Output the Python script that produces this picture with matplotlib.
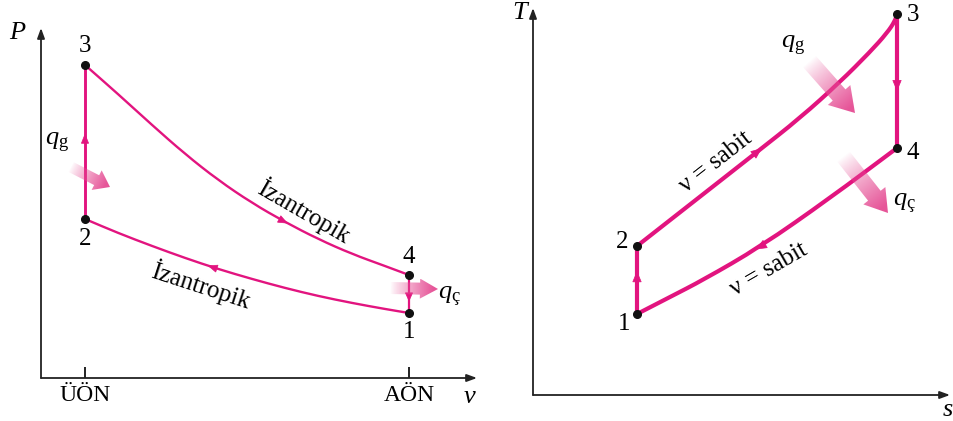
import numpy as np
import matplotlib
matplotlib.use("Agg")
import matplotlib.pyplot as plt
from matplotlib.patches import Polygon, PathPatch
from matplotlib.path import Path

# ---------------- data ----------------
# Left panel: P-v diagram (v, P in drawing units)
pv_states_v = [368, 44, 44, 368]          # states 1, 2, 3, 4
pv_states_P = [65, 159, 313, 103]
pv_state_labels = ["1", "2", "3", "4"]

# isentropic expansion 3 -> 4
exp_v = [44, 77, 111, 144, 177, 211, 244, 277, 311, 344, 368]
exp_P = [313, 284, 253, 224, 198, 175, 156, 139, 124, 112, 103]
# isentropic compression 1 -> 2 (stored with increasing v)
cmp_v = [44, 77, 111, 144, 177, 211, 244, 277, 311, 344, 368]
cmp_P = [159, 145, 132, 120, 109, 99, 90, 82, 75, 69, 65]

pv_ticks = [44, 368]
pv_tick_labels = ["ÜÖN", "AÖN"]

# Right panel: T-s diagram
ts_states_s = [104, 104, 364, 364]        # states 1, 2, 3, 4
ts_states_T = [81, 149, 381, 247]
ts_state_labels = ["1", "2", "3", "4"]

# constant-volume heat addition 2 -> 3
add_s = [104, 164, 224, 267, 307, 337, 354, 362, 364]
add_T = [149, 196, 243, 277, 313, 343, 362, 374, 381]
# constant-volume heat rejection 4 -> 1
rej_s = [364, 297, 227, 170, 137, 104]
rej_T = [247, 197, 148, 115, 98, 81]

# ---------------- style ----------------
plt.rcParams["font.family"] = "serif"
plt.rcParams["font.serif"] = ["Liberation Serif", "DejaVu Serif"]
plt.rcParams["mathtext.fontset"] = "custom"
plt.rcParams["mathtext.rm"] = "Liberation Serif"
plt.rcParams["mathtext.it"] = "Liberation Serif:italic"

PINK = "#e2147f"
GRAD = (0.90, 0.30, 0.58)
AXC = "#222222"
FS = 18

W, H = 954, 421
fig = plt.figure(figsize=(W / 100, H / 100), dpi=100)


def make_axes(ox, oy, xe, ye):
    ax = fig.add_axes([ox / W, (H - oy) / H, (xe - ox) / W, (oy - ye) / H])
    xl, yl = (0, xe - ox), (0, oy - ye)
    for sp in ax.spines.values():
        sp.set_visible(False)
    ax.set_yticks([])
    ax.set_xticks([])
    ax.patch.set_alpha(0)
    ax.annotate("", xy=(1, 0), xytext=(0, 0), xycoords="axes fraction",
                arrowprops=dict(arrowstyle="-|>,head_length=0.6,head_width=0.22",
                                color=AXC, lw=1.3, shrinkA=0, shrinkB=0))
    ax.annotate("", xy=(0, 1), xytext=(0, 0), xycoords="axes fraction",
                arrowprops=dict(arrowstyle="-|>,head_length=0.6,head_width=0.22",
                                color=AXC, lw=1.3, shrinkA=0, shrinkB=0))
    return ax, xl, yl


def smooth_curve(ax, xs, ys, lw):
    """Draw a smooth curve using the read points as quadratic Bezier controls."""
    pts = np.column_stack([xs, ys]).astype(float)
    verts = [pts[0], (pts[0] + pts[1]) / 2]
    codes = [Path.MOVETO, Path.LINETO]
    for i in range(1, len(pts) - 1):
        verts += [pts[i], (pts[i] + pts[i + 1]) / 2]
        codes += [Path.CURVE3, Path.CURVE3]
    verts.append(pts[-1])
    codes.append(Path.LINETO)
    ax.add_patch(PathPatch(Path(verts, codes), facecolor="none", edgecolor=PINK,
                           lw=lw, zorder=3, capstyle="butt"))


def arrow_mark(ax, xs, ys, frac, L=9.0, w=3.6, color=PINK):
    xs = np.asarray(xs, float)
    ys = np.asarray(ys, float)
    seg = np.hypot(np.diff(xs), np.diff(ys))
    cum = np.concatenate([[0], np.cumsum(seg)])
    target = frac * cum[-1]
    i = min(np.searchsorted(cum, target) - 1, len(seg) - 1)
    i = max(i, 0)
    t = (target - cum[i]) / seg[i]
    p = np.array([xs[i] + t * (xs[i + 1] - xs[i]), ys[i] + t * (ys[i + 1] - ys[i])])
    u = np.array([xs[i + 1] - xs[i], ys[i + 1] - ys[i]]) / seg[i]
    n = np.array([-u[1], u[0]])
    base = p - u * L
    tri = [p, base + n * w, base - n * w]
    ax.add_patch(Polygon(tri, closed=True, facecolor=color, edgecolor=color,
                         lw=0.5, zorder=4))


def grad_arrow(ax, tail, tip, shaft_w, head_w, head_len):
    tail = np.asarray(tail, float)
    tip = np.asarray(tip, float)
    d = tip - tail
    L = np.hypot(*d)
    u = d / L
    n = np.array([-u[1], u[0]])
    hb = tip - u * head_len
    pts = np.array([tail + n * shaft_w / 2, hb + n * shaft_w / 2, hb + n * head_w / 2,
                    tip, hb - n * head_w / 2, hb - n * shaft_w / 2, tail - n * shaft_w / 2])
    poly = Polygon(pts, closed=True, facecolor="none", edgecolor="none")
    ax.add_patch(poly)
    x0, x1 = pts[:, 0].min(), pts[:, 0].max()
    y0, y1 = pts[:, 1].min(), pts[:, 1].max()
    gx = np.linspace(x0, x1, 80)
    gy = np.linspace(y0, y1, 80)
    GX, GY = np.meshgrid(gx, gy)
    t = ((GX - tail[0]) * u[0] + (GY - tail[1]) * u[1]) / L
    t = np.clip(t, 0, 1)
    rgba = np.zeros((80, 80, 4))
    rgba[..., 0], rgba[..., 1], rgba[..., 2] = GRAD
    rgba[..., 3] = np.clip(t ** 0.85 * 1.05, 0, 0.95)
    im = ax.imshow(rgba, extent=(x0, x1, y0, y1), origin="lower",
                   interpolation="bilinear", aspect="auto", zorder=5)
    im.set_clip_path(poly)


# ================= Left: P-v =================
axL, xlL, ylL = make_axes(41, 378, 477, 28)

axL.plot([pv_states_v[1], pv_states_v[2]], [pv_states_P[1], pv_states_P[2]],
         color=PINK, lw=2.1, solid_capstyle="butt", zorder=3)
axL.plot([pv_states_v[3], pv_states_v[0]], [pv_states_P[3], pv_states_P[0]],
         color=PINK, lw=1.6, solid_capstyle="butt", zorder=3)
smooth_curve(axL, exp_v, exp_P, 1.7)
smooth_curve(axL, cmp_v, cmp_P, 1.7)

arrow_mark(axL, [pv_states_v[1], pv_states_v[2]], [pv_states_P[1], pv_states_P[2]], 0.55)
arrow_mark(axL, exp_v, exp_P, 0.66)
arrow_mark(axL, cmp_v[::-1], cmp_P[::-1], 0.61)
arrow_mark(axL, [pv_states_v[3], pv_states_v[0]], [pv_states_P[3], pv_states_P[0]], 0.68, L=8)

axL.plot(pv_states_v, pv_states_P, "o", color="#111111", ms=5.5, zorder=6)

pv_label_pos = [(368, 46), (44, 139), (44, 332), (368, 121)]
for lab, (x, y) in zip(pv_state_labels, pv_label_pos):
    axL.text(x, y, lab, fontsize=FS, ha="center", va="center", zorder=7)

grad_arrow(axL, (30, 211), (69, 191), 11, 22, 15)
grad_arrow(axL, (349, 90), (397, 89), 12, 20, 18)

axL.text(16, 235, r"$q_{\rm g}$", fontsize=FS + 1, ha="center", va="center")
axL.text(408, 81, r"$q_{\rm ç}$", fontsize=FS + 1, ha="center", va="center")

axL.text(263, 167, "İzantropik", fontsize=FS, rotation=-30, ha="center",
         va="center", rotation_mode="anchor")
axL.text(160, 93, "İzantropik", fontsize=FS, rotation=-18, ha="center",
         va="center", rotation_mode="anchor")

axL.set_xticks(pv_ticks)
axL.set_xticklabels(pv_tick_labels)
axL.tick_params(axis="x", direction="in", length=8, width=1.4, color=AXC,
                pad=5, labelsize=FS - 1)
axL.text(-24, 345, "P", fontsize=FS + 1, style="italic", ha="center", va="center")
axL.text(429, -19, "ν", fontsize=FS + 1, style="italic", ha="center", va="center")
axL.set_xlim(*xlL)
axL.set_ylim(*ylL)

# ================= Right: T-s =================
axR, xlR, ylR = make_axes(533, 395, 950, 8)

axR.plot([ts_states_s[0], ts_states_s[1]], [ts_states_T[0], ts_states_T[1]],
         color=PINK, lw=3.0, solid_capstyle="butt", zorder=3)
axR.plot([ts_states_s[2], ts_states_s[3]], [ts_states_T[2], ts_states_T[3]],
         color=PINK, lw=3.0, solid_capstyle="butt", zorder=3)
smooth_curve(axR, add_s, add_T, 3.0)
smooth_curve(axR, rej_s, rej_T, 3.0)

arrow_mark(axR, [ts_states_s[0], ts_states_s[1]], [ts_states_T[0], ts_states_T[1]], 0.62, L=10, w=4.2)
arrow_mark(axR, add_s, add_T, 0.45, L=10, w=4.2)
arrow_mark(axR, [ts_states_s[2], ts_states_s[3]], [ts_states_T[2], ts_states_T[3]], 0.57, L=10, w=4.2)
arrow_mark(axR, rej_s, rej_T, 0.56, L=10, w=4.2)

axR.plot(ts_states_s, ts_states_T, "o", color="#111111", ms=5.5, zorder=6)

ts_label_pos = [(91, 71), (89, 153), (380, 380), (380, 242)]
for lab, (x, y) in zip(ts_state_labels, ts_label_pos):
    axR.text(x, y, lab, fontsize=FS, ha="center", va="center", zorder=7)

grad_arrow(axR, (276, 334), (322, 282), 17, 30, 24)
grad_arrow(axR, (310, 239), (355, 182), 16, 28, 22)

axR.text(260, 349, r"$q_{\rm g}$", fontsize=FS + 1, ha="center", va="center")
axR.text(371, 191, r"$q_{\rm ç}$", fontsize=FS + 1, ha="center", va="center")

axR.text(183, 233, "ν = sabit", fontsize=FS, rotation=38, ha="center",
         va="center", rotation_mode="anchor")
axR.text(236, 125, "ν = sabit", fontsize=FS, rotation=30, ha="center",
         va="center", rotation_mode="anchor")

axR.text(-13, 382, "T", fontsize=FS + 1, style="italic", ha="center", va="center")
axR.text(415, -15, "s", fontsize=FS + 1, style="italic", ha="center", va="center")
axR.set_xlim(*xlR)
axR.set_ylim(*ylR)

fig.savefig("out.png", dpi=100)
